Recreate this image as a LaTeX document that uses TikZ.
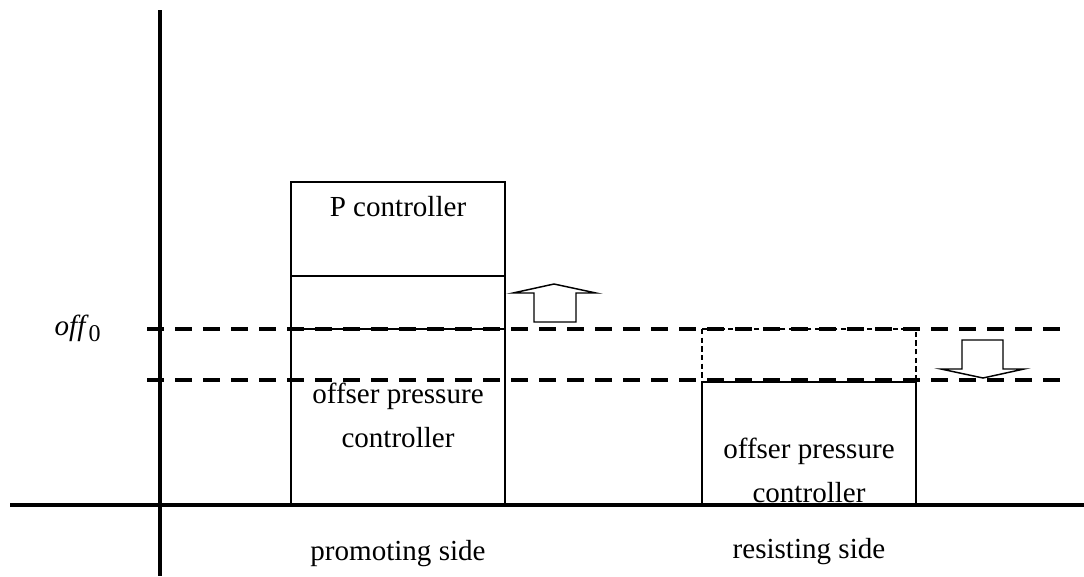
\documentclass[tikz,border=0pt]{standalone}
\usepackage{fontspec}
\setmainfont{Liberation Serif}
\begin{document}
\begin{tikzpicture}[x=0.75pt,y=-0.75pt,
  axis/.style={line width=2.4pt},
  level/.style={line width=2.4pt, dash pattern=on 12.5pt off 8.5pt},
  box/.style={draw, line width=1.1pt},
  ghost/.style={draw, line width=0.9pt, dash pattern=on 4pt off 2.5pt},
  arrowshape/.style={draw, line width=1.1pt, fill=white, line join=miter},
  lbl/.style={anchor=base, font=\fontsize{21.8}{30.75}\selectfont, inner sep=0pt}]
\useasboundingbox (0,0) rectangle (1084,576);
% axes
\coordinate (vt) at (160,10);
\coordinate (vb) at (160,576);
\coordinate (hl) at (10,505);
\coordinate (hr) at (1084,505);
\draw[axis] (vt) -- (vb);
\draw[axis] (hl) -- (hr);
% left boxes
\draw[box] (291,182) rectangle (505,276);
\draw[box] (291,276) rectangle (505,329);
\draw[box] (291,329) rectangle (505,505);
% right boxes
\draw[ghost] (702,329) rectangle (916,382);
\draw[box] (702,382) rectangle (916,505);
% dashed levels
\coordinate (l1a) at (147,329);
\coordinate (l1b) at (1060,329);
\coordinate (l2a) at (147,380);
\coordinate (l2b) at (1060,380);
\draw[level] (l1a) -- (l1b);
\draw[level] (l2a) -- (l2b);
% up arrow
\draw[arrowshape] (534,322) -- (534,293) -- (513,293) -- (554,284) -- (596,293) -- (576,293) -- (576,322) -- cycle;
% down arrow
\draw[arrowshape] (962,340) -- (962,369) -- (941,369) -- (983,378) -- (1024,369) -- (1003,369) -- (1003,340) -- cycle;
% texts
\node[lbl] (pc) at (398,216) {P controller};
\node[lbl] (l1) at (398,403) {offser pressure};
\node[lbl] (l2) at (398,447) {controller};
\node[lbl] (r1) at (809,458) {offser pressure};
\node[lbl] (r2) at (809,502) {controller};
\node[lbl] (ps) at (398,560) {promoting side};
\node[lbl] (rs) at (809,558) {resisting side};
\node[lbl] (off) at (78,335) {\textit{off}\textsubscript{\fontsize{18}{20}\selectfont 0}};
\end{tikzpicture}
\end{document}
